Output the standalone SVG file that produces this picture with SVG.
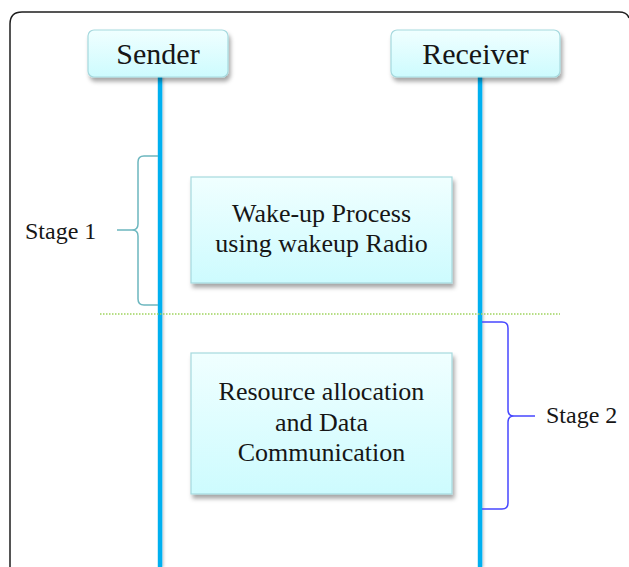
<svg xmlns="http://www.w3.org/2000/svg" width="629" height="567" viewBox="0 0 629 567">
<style>
.t{font-family:'Liberation Serif','DejaVu Serif',serif;fill:#161616;}
.hd{font-size:30px;text-anchor:middle;}
.bx{font-size:26px;text-anchor:middle;}
.st{font-size:24px;}
.box{fill:url(#g);stroke:#a6d9de;stroke-width:1.2;filter:url(#sh);}
.life{fill:#00b0f0;filter:url(#ls);}
</style>
<defs>
<linearGradient id="g" x1="0" y1="0" x2="0" y2="1">
<stop offset="0" stop-color="#f0ffff"/>
<stop offset="1" stop-color="#cdfbfe"/>
</linearGradient>
<filter id="sh" x="-10%" y="-10%" width="125%" height="135%">
<feDropShadow dx="2" dy="4" stdDeviation="2" flood-color="#000" flood-opacity="0.35"/>
</filter>
<filter id="ls" x="-100%" y="-5%" width="300%" height="110%">
<feDropShadow dx="1.5" dy="0" stdDeviation="1" flood-color="#000" flood-opacity="0.2"/>
</filter>
</defs>
<rect width="629" height="567" fill="#ffffff"/>
<path id="frame" d="M10,567 V24 Q10,12 22,12 H619 Q627,12 629,18" fill="none" stroke="#1e1e1e" stroke-width="1.5"/>
<g id="connectors">
<rect class="life" x="157.8" y="77" width="4.5" height="490"/>
<rect class="life" x="477.8" y="77" width="4.5" height="490"/>
<line x1="100" y1="314" x2="560" y2="314" stroke="#9fd45e" stroke-width="1.5" stroke-dasharray="1.5 1.5"/>
<path d="M158,156 H144 Q138,156 138,162 V224 Q138,230 132,230 H117 M132,230 Q138,230 138,236 V299 Q138,305 144,305 H158" fill="none" stroke="#6cb7bf" stroke-width="1.5"/>
<path d="M482,322 H502 Q508,322 508,328 V410 Q508,416 514,416 H535 M514,416 Q508,416 508,422 V503 Q508,509 502,509 H482" fill="none" stroke="#4747ff" stroke-width="1.5"/>
</g>
<g id="sender">
<rect class="box" x="88" y="30" width="140" height="47" rx="6"/>
<text class="t hd" x="158" y="64">Sender</text>
</g>
<g id="receiver">
<rect class="box" x="391" y="30" width="169" height="47" rx="6"/>
<text class="t hd" x="475.5" y="64">Receiver</text>
</g>
<g id="wakeup">
<rect class="box" x="191" y="177" width="261" height="106"/>
<text class="t bx" x="321.5" y="222">Wake-up Process</text>
<text class="t bx" x="321.5" y="252">using wakeup Radio</text>
</g>
<g id="resource">
<rect class="box" x="191" y="353" width="261" height="141"/>
<text class="t bx" x="321.5" y="400">Resource allocation</text>
<text class="t bx" x="321.5" y="431">and Data</text>
<text class="t bx" x="321.5" y="461">Communication</text>
</g>
<g id="stage1">
<text class="t st" x="25" y="239">Stage 1</text>
</g>
<g id="stage2">
<text class="t st" x="546" y="423">Stage 2</text>
</g>
</svg>
